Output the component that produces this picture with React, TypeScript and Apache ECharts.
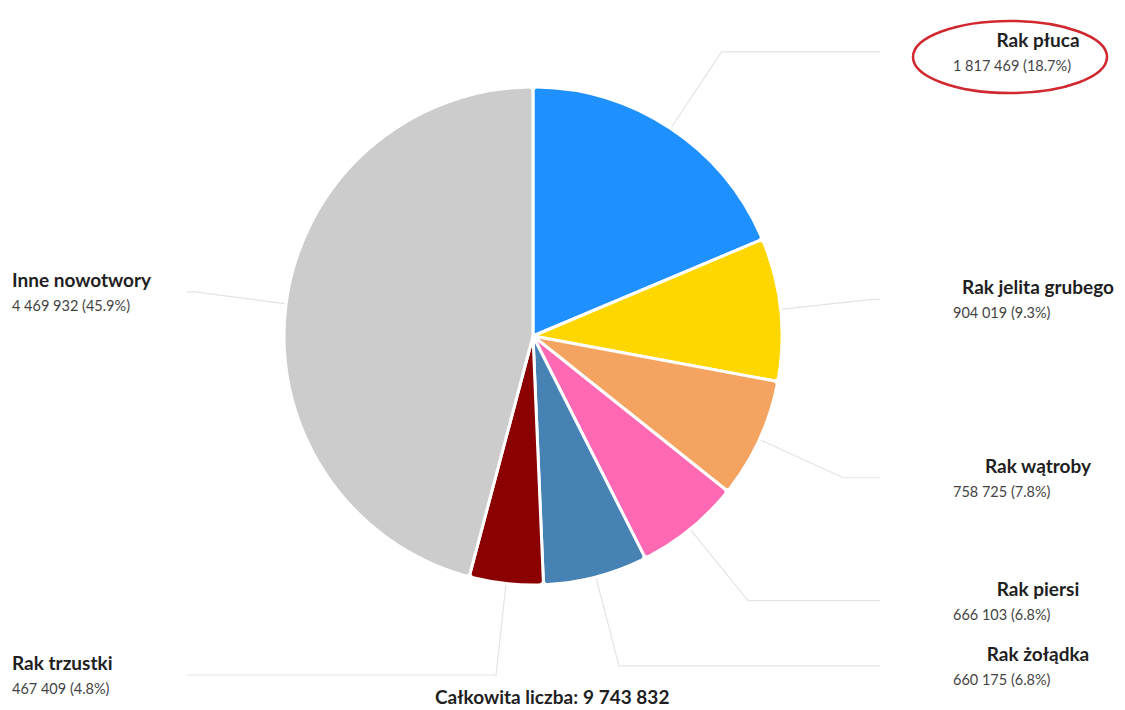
import React, { useEffect, useRef } from "react";
import * as echarts from "echarts";

const categories = [
  "Rak płuca",
  "Rak jelita grubego",
  "Rak wątroby",
  "Rak piersi",
  "Rak żołądka",
  "Rak trzustki",
  "Inne nowotwory",
];
const values = [1817469, 904019, 758725, 666103, 660175, 467409, 4469932];
const colors = ["#1E90FF", "#FFD700", "#F4A460", "#FF69B4", "#4682B4", "#8B0000", "#CCCCCC"];
const leftSide = [false, false, false, false, false, true, true];
const totalLabel = "Całkowita liczba:";

const fmt = (v: number) => v.toString().replace(/\B(?=(\d{3})+(?!\d))/g, " ");

const FONT = "Lato, 'Noto Sans', sans-serif";

function richFor(left: boolean) {
  return {
    name: {
      fontFamily: FONT,
      fontWeight: "bold",
      fontSize: 19,
      color: "#1f1f1f",
      lineHeight: 27,
      width: 170,
      align: left ? "left" : "center",
    },
    val: {
      fontFamily: FONT,
      fontSize: 14.5,
      color: "#444",
      lineHeight: 25,
      width: 170,
      align: "left",
    },
  };
}

export default function App() {
  const ref = useRef<HTMLDivElement>(null);
  useEffect(() => {
    if (!ref.current) return;
    const chart = echarts.init(ref.current, null, { renderer: "svg" });
    const total = values.reduce((a, b) => a + b, 0);
    const data = categories.map((name, i) => ({
      name,
      value: values[i],
      itemStyle: { color: colors[i] },
      label: leftSide[i]
        ? { edgeDistance: 12, padding: 0, rich: richFor(true) }
        : { edgeDistance: 2, padding: [0, 0, 0, 68], rich: richFor(false) },
    }));
    chart.setOption({
      animation: false,
      backgroundColor: "#ffffff",
      title: {
        text: `{b|${totalLabel}} {n|${fmt(total)}}`,
        left: 435,
        top: 685,
        padding: 0,
        textStyle: {
          rich: {
            b: { fontFamily: FONT, fontWeight: "bold", fontSize: 19, lineHeight: 22, color: "#1f1f1f" },
            n: { fontFamily: FONT, fontSize: 19, lineHeight: 22, color: "#1f1f1f" },
          },
        },
      },
      graphic: [
        {
          type: "ellipse",
          shape: { cx: 1010, cy: 57, rx: 97, ry: 36 },
          style: { fill: "none", stroke: "#d0282e", lineWidth: 2.5 },
          z: 100,
        },
      ],
      series: [
        {
          type: "pie",
          center: [533, 336],
          radius: [0, 249],
          startAngle: 90,
          clockwise: true,
          itemStyle: { borderColor: "#ffffff", borderWidth: 3, borderRadius: 4 },
          label: {
            show: true,
            position: "outside",
            alignTo: "edge",
            width: 170,
            overflow: "none",
            distanceToLabelLine: 5,
            formatter: (p: any) =>
              `{name|${p.name}}\n{val|${fmt(p.value)} (${((p.value / total) * 100).toFixed(1)}%)}`,
          },
          labelLine: {
            show: true,
            length: 92,
            length2: 10,
            lineStyle: { color: "#e4e4e4", width: 1.2 },
          },
          data,
        },
      ],
    });
    return () => chart.dispose();
  }, []);
  return (
    <div
      ref={ref}
      style={{ position: "fixed", left: 0, top: 0, width: 1125, height: 710, background: "#fff" }}
    />
  );
}
